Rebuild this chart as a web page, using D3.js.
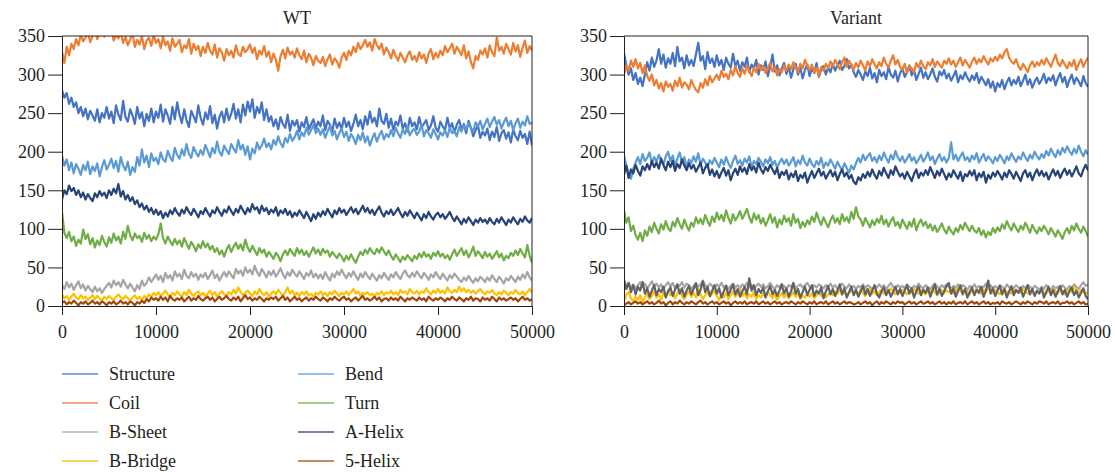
<!DOCTYPE html>
<html>
<head>
<meta charset="utf-8">
<script src="https://cdn.jsdelivr.net/npm/d3@7"></script>
<style>
    body { margin: 0; background: #fff; }
    text { font-family: "Liberation Serif", "DejaVu Serif", serif; fill: #231f20; }
</style>
</head>
<body>
<div id="chart"></div>
<script>
// each series is sampled evenly from 0 to 50000 (201 samples, every 250)
var timeMax = 50000;
var xTicks = [0, 10000, 20000, 30000, 40000, 50000];
var yTicks = [0, 50, 100, 150, 200, 250, 300, 350];

var seriesNames = ["Structure", "Coil", "B-Sheet", "B-Bridge", "Bend", "Turn", "A-Helix", "5-Helix"];
var seriesColors = ["#4472c4", "#ed7d31", "#a5a5a5", "#ffc000", "#5b9bd5", "#70ad47", "#264478", "#9e480e", "#636363"];

// ---- WT ----
var wtStructure = [280, 270, 276, 262, 270, 258, 264, 250, 258, 246,
    256, 242, 253, 247, 240, 255, 238, 250, 244, 258,
    243, 252, 237, 260, 248, 241, 266, 245, 239, 255,
    247, 236, 258, 243, 251, 233, 249, 240, 256, 238,
    252, 244, 261, 239, 255, 247, 236, 258, 242, 264,
    248, 237, 255, 241, 232, 253, 246, 238, 260, 244,
    235, 251, 242, 259, 237, 248, 230, 245, 252, 238,
    256, 241, 249, 262, 243, 255, 238, 261, 247, 265,
    252, 268, 244, 258, 250, 264, 241, 255, 239, 246,
    233, 242, 229, 245, 236, 231, 248, 227, 240, 234,
    241, 226, 238, 232, 245, 229, 236, 242, 230, 239,
    233, 247, 228, 240, 235, 226, 243, 231, 238, 229,
    244, 232, 239, 227, 236, 248, 233, 241, 229, 246,
    235, 252, 238, 244, 233, 256, 240, 236, 249, 231,
    243, 228, 239, 234, 247, 230, 237, 226, 244, 233,
    238, 229, 245, 232, 236, 241, 228, 234, 246, 231,
    226, 239, 233, 228, 244, 230, 237, 225, 235, 241,
    229, 236, 224, 240, 231, 220, 228, 234, 218, 226,
    221, 230, 215, 226, 219, 232, 214, 224, 228, 217,
    225, 212, 229, 220, 215, 227, 218, 223, 210, 226,
    208];
var wtCoil = [330, 315, 336, 325, 340, 333, 346, 338, 352, 343,
    348, 355, 342, 350, 357, 346, 353, 360, 349, 356,
    351, 358, 344, 352, 347, 355, 341, 349, 338, 346,
    353, 336, 345, 339, 350, 333, 344, 348, 337, 352,
    341, 346, 334, 349, 338, 343, 331, 347, 336, 340,
    345, 329, 338, 334, 346, 327, 340, 332, 337, 324,
    336, 328, 341, 331, 326, 339, 322, 334, 329, 318,
    333, 325, 331, 322, 338, 327, 324, 336, 329, 333,
    339, 328, 335, 320, 331, 326, 337, 323, 330, 316,
    327, 319, 305, 324, 332, 321, 335, 326, 330, 322,
    334, 325, 320, 331, 316, 327, 322, 312, 324, 318,
    315, 323, 311, 320, 326, 313, 321, 317, 309, 322,
    328, 319, 331, 325, 336, 329, 341, 333, 338, 345,
    336, 342, 331, 346, 338, 333, 340, 326, 335, 329,
    321, 332, 324, 318, 328, 322, 316, 325, 330, 319,
    324, 317, 329, 321, 326, 315, 327, 333, 320, 328,
    322, 331, 325, 337, 329, 334, 340, 327, 336, 331,
    325, 338, 321, 330, 316, 308, 324, 319, 331, 326,
    334, 322, 338, 329, 324, 348, 331, 336, 327, 340,
    333, 326, 341, 330, 338, 323, 335, 344, 328, 337,
    331];
var wtBSheet = [28, 22, 31, 24, 29, 21, 27, 32, 23, 28,
    20, 26, 22, 18, 25, 19, 23, 17, 22, 26,
    30, 24, 33, 27, 31, 25, 34, 28, 23, 29,
    24, 19, 27, 22, 33, 26, 30, 37, 31, 36,
    41, 34, 39, 31, 43, 36, 40, 33, 45, 38,
    42, 35, 47, 39, 36, 44, 38, 42, 34, 41,
    37, 43, 35, 40, 46, 36, 41, 33, 39, 44,
    38, 45, 40, 36, 48, 42, 46, 39, 50, 43,
    47, 41, 52, 44, 39, 48, 43, 37, 45, 40,
    46, 38, 43, 49, 41, 36, 44, 39, 47, 42,
    38, 45, 40, 35, 43, 39, 46, 37, 42, 36,
    41, 35, 44, 38, 33, 42, 37, 45, 40, 47,
    41, 36, 43, 38, 45, 39, 34, 42, 37, 44,
    39, 35, 42, 37, 33, 40, 36, 43, 38, 34,
    41, 37, 44, 39, 35, 42, 46, 40, 37, 43,
    38, 45, 40, 36, 43, 39, 34, 41, 37, 44,
    39, 35, 42, 37, 33, 40, 36, 42, 38, 34,
    31, 37, 33, 39, 34, 30, 36, 32, 38, 35,
    31, 37, 33, 40, 35, 31, 38, 34, 29, 36,
    33, 39, 35, 31, 38, 34, 41, 36, 44, 37,
    33];
var wtBBridge = [15, 10, 13, 8, 12, 16, 11, 9, 14, 10,
    12, 8, 11, 14, 9, 13, 10, 7, 12, 9,
    13, 10, 8, 12, 15, 11, 9, 13, 10, 7,
    11, 14, 9, 12, 8, 13, 10, 15, 12, 17,
    14, 18, 13, 16, 20, 15, 12, 17, 14, 19,
    15, 12, 18, 14, 21, 16, 13, 17, 19, 14,
    17, 13, 16, 20, 14, 18, 12, 16, 19, 15,
    13, 18, 15, 21, 16, 24, 18, 14, 17, 20,
    16, 13, 19, 15, 22, 17, 14, 18, 12, 16,
    19, 15, 21, 17, 13, 18, 24, 16, 20, 14,
    17, 13, 18, 15, 19, 14, 16, 12, 17, 15,
    19, 14, 17, 13, 18, 15, 20, 16, 13, 17,
    15, 19, 14, 18, 22, 16, 19, 13, 17, 15,
    18, 14, 16, 12, 17, 15, 19, 14, 18, 16,
    20, 15, 18, 14, 21, 17, 19, 15, 22, 18,
    16, 20, 15, 19, 17, 23, 18, 15, 20, 17,
    22, 17, 20, 16, 24, 19, 17, 21, 18, 25,
    19, 23, 18, 21, 17, 20, 16, 19, 22, 18,
    15, 19, 17, 21, 16, 14, 18, 15, 20, 17,
    14, 18, 16, 21, 17, 15, 19, 14, 18, 22,
    17];
var wtBend = [195, 182, 190, 176, 186, 172, 184, 178, 170, 183,
    176, 187, 171, 181, 175, 185, 168, 180, 189, 177,
    183, 191, 179, 188, 174, 193, 182, 176, 187, 170,
    180, 174, 193, 182, 203, 186, 195, 180, 198, 188,
    192, 184, 199, 190, 187, 201, 193, 188, 205, 196,
    191, 203, 195, 210, 197, 192, 206, 199, 194, 202,
    196, 209, 201, 193, 205, 198, 213, 200, 195, 208,
    202, 197, 210, 204, 199, 215, 203, 209, 196, 207,
    190, 204, 198, 212, 203, 208, 217, 206, 211, 203,
    215, 209, 220, 211, 206, 218, 212, 223, 214, 219,
    227, 216, 225, 220, 231, 222, 228, 235, 224, 230,
    222, 229, 218, 226, 233, 221, 227, 216, 224, 230,
    219, 226, 214, 223, 218, 210, 222, 215, 225, 212,
    220, 208, 217, 224, 213, 221, 227, 216, 223, 219,
    228, 220, 231, 224, 218, 229, 223, 233, 221, 227,
    230, 222, 226, 235, 220, 228, 224, 218, 229, 223,
    216, 225, 221, 228, 219, 231, 224, 227, 220, 232,
    226, 234, 229, 237, 231, 226, 238, 233, 240, 229,
    236, 243, 232, 239, 245, 235, 241, 230, 238, 244,
    233, 240, 228, 237, 243, 231, 239, 234, 246, 236,
    238];
var wtTurn = [122, 95, 88, 96, 84, 90, 78, 86, 81, 99,
    87, 93, 80, 88, 76, 85, 79, 91, 83, 77,
    89, 82, 94, 85, 90, 81, 96, 87, 104, 92,
    85, 94, 88, 91, 83, 95, 87, 92, 84, 90,
    86, 93, 107, 88, 81, 90, 84, 79, 87, 80,
    85, 77, 88, 81, 74, 83, 78, 71, 80, 75,
    84, 76, 81, 73, 78, 70, 75, 67, 72, 64,
    73, 79, 70, 77, 82, 74, 80, 72, 86, 76,
    70, 78, 72, 66, 75, 69, 73, 64, 70, 66,
    61, 69, 65, 58, 67, 72, 66, 74, 69, 65,
    75, 68, 73, 66, 71, 64, 70, 76, 68, 73,
    66, 74, 69, 72, 64, 70, 66, 62, 68, 64,
    58, 65, 60, 67, 61, 56, 64, 70, 66, 73,
    68, 75, 70, 67, 74, 69, 76, 71, 66, 72,
    65, 60, 67, 62, 57, 64, 60, 66, 62, 58,
    65, 61, 68, 63, 70, 64, 67, 61, 69, 65,
    71, 64, 68, 62, 66, 60, 67, 73, 65, 70,
    75, 66, 72, 63, 69, 77, 65, 71, 67, 62,
    70, 64, 68, 61, 66, 71, 63, 68, 59, 65,
    62, 69, 65, 72, 66, 74, 68, 63, 79, 65,
    56];
var wtAHelix = [138, 150, 145, 156, 149, 153, 144, 150, 141, 147,
    138, 145, 140, 136, 146, 141, 149, 143, 147, 140,
    150, 144, 152, 146, 158, 142, 149, 138, 144, 136,
    141, 132, 137, 128, 133, 125, 130, 122, 127, 119,
    125, 118, 123, 114, 121, 116, 124, 119, 127, 121,
    117, 125, 120, 128, 122, 118, 126, 121, 115, 123,
    119, 127, 121, 116, 124, 120, 128, 122, 117, 125,
    121, 129, 123, 118, 126, 121, 130, 124, 119, 127,
    122, 132, 125, 128, 120, 130, 123, 127, 119, 125,
    121, 128, 117, 124, 120, 126, 118, 123, 115, 121,
    117, 124, 119, 114, 122, 116, 110, 119, 113, 121,
    116, 123, 118, 126, 120, 115, 124, 119, 127, 121,
    125, 118, 123, 128, 121, 126, 119, 124, 130, 122,
    127, 120, 125, 118, 124, 129, 121, 116, 123, 119,
    125, 118, 122, 127, 120, 115, 122, 117, 124, 119,
    114, 121, 116, 111, 119, 114, 122, 116, 112, 118,
    121, 115, 119, 113, 117, 122, 115, 110, 116, 111,
    106, 113, 108, 115, 110, 105, 112, 108, 114, 109,
    112, 107, 114, 109, 106, 113, 108, 115, 110, 105,
    112, 108, 115, 110, 106, 113, 109, 116, 111, 108,
    114];
var wt5Helix = [4, 6, 2, 5, 3, 7, 4, 1, 5, 3,
    6, 2, 4, 7, 3, 5, 2, 6, 4, 1,
    5, 3, 6, 2, 4, 7, 3, 5, 2, 6,
    4, 1, 5, 3, 7, 4, 9, 6, 11, 8,
    10, 7, 12, 8, 11, 6, 13, 9, 7, 10,
    8, 11, 6, 9, 12, 7, 10, 8, 13, 9,
    7, 10, 12, 8, 11, 6, 9, 12, 8, 10,
    13, 9, 7, 11, 8, 12, 6, 10, 14, 9,
    11, 7, 10, 8, 12, 9, 6, 10, 8, 11,
    9, 12, 7, 10, 13, 8, 11, 6, 9, 12,
    8, 10, 6, 9, 11, 7, 10, 8, 12, 9,
    7, 11, 9, 6, 10, 8, 12, 9, 7, 10,
    12, 8, 10, 6, 9, 11, 7, 10, 13, 8,
    10, 7, 9, 12, 8, 11, 6, 9, 10, 7,
    11, 8, 10, 7, 12, 9, 6, 10, 8, 11,
    9, 7, 11, 8, 10, 6, 12, 9, 7, 10,
    8, 11, 9, 6, 10, 8, 12, 9, 7, 11,
    9, 6, 10, 8, 12, 7, 10, 9, 6, 11,
    8, 10, 7, 12, 9, 6, 11, 8, 10, 7,
    9, 11, 8, 10, 6, 9, 12, 8, 10, 7,
    9];

// ---- Variant ----
var vStructure = [328, 312, 300, 308, 293, 302, 288, 296, 285, 300,
    316, 305, 322, 310, 318, 333, 314, 326, 309, 321,
    314, 328, 311, 336, 317, 322, 308, 325, 312, 319,
    311, 326, 341, 318, 324, 307, 329, 315, 321, 310,
    325, 312, 319, 306, 322, 314, 309, 327, 311, 318,
    305, 316, 310, 322, 303, 313, 308, 319, 300, 312,
    306, 317, 298, 310, 326, 304, 312, 299, 308, 315,
    301, 310, 296, 307, 314, 300, 309, 295, 306, 313,
    298, 308, 302, 315, 297, 306, 311, 300, 309, 303,
    314, 305, 312, 318, 306, 311, 320, 308, 313, 303,
    297, 306, 300, 293, 304, 298, 309, 295, 302, 290,
    306, 298, 303, 294, 310, 300, 296, 305, 291, 302,
    308, 297, 303, 312, 299, 306, 293, 301, 309, 296,
    303, 294, 300, 308, 297, 291, 304, 299, 306, 295,
    301, 292, 298, 305, 290, 299, 294, 303, 296, 291,
    299, 293, 302, 289, 297, 292, 286, 294, 283, 291,
    278, 289, 284, 293, 281, 290, 296, 286, 293, 288,
    297, 285, 292, 300, 287, 294, 283, 291, 296, 288,
    293, 301, 289, 296, 292, 299, 286, 295, 302, 290,
    297, 284, 293, 300, 288, 296, 291, 285, 298, 289,
    284];
var vCoil = [300, 312, 305, 318, 310, 320, 308, 315, 302, 312,
    298, 292, 300, 286, 293, 282, 289, 278, 291, 284,
    288, 279, 292, 285, 296, 283, 290, 287, 281, 293,
    286, 280, 277, 289, 283, 294, 286, 298, 290, 295,
    300, 293, 305, 297, 301, 294, 306, 299, 311, 302,
    297, 308, 301, 312, 304, 298, 309, 303, 314, 306,
    311, 302, 308, 315, 304, 310, 299, 307, 303, 312,
    305, 313, 307, 316, 309, 303, 314, 308, 319, 311,
    306, 313, 302, 309, 298, 310, 305, 314, 308, 317,
    311, 319, 313, 307, 316, 322, 310, 318, 312, 306,
    315, 309, 318, 312, 305, 317, 311, 320, 313, 308,
    316, 311, 322, 314, 309, 318, 325, 313, 319, 310,
    306, 314, 302, 311, 308, 303, 315, 309, 318, 311,
    307, 316, 312, 320, 310, 317, 313, 309, 318, 314,
    321, 313, 318, 310, 316, 322, 312, 319, 314, 309,
    317, 322, 314, 320, 316, 324, 318, 313, 321, 317,
    323, 318, 326, 321, 329, 333, 322, 317, 314, 320,
    311, 306, 314, 309, 303, 312, 317, 310, 316, 312,
    319, 313, 321, 316, 310, 318, 326, 315, 311, 319,
    313, 308, 316, 311, 319, 306, 314, 320, 310, 317,
    322];
var vBSheet = [32, 26, 30, 24, 28, 22, 27, 31, 25, 29,
    23, 27, 32, 26, 29, 24, 28, 22, 27, 31,
    25, 30, 23, 28, 26, 31, 24, 29, 27, 22,
    26, 30, 25, 28, 33, 27, 24, 29, 26, 23,
    28, 25, 30, 24, 27, 22, 26, 29, 24, 27,
    23, 28, 25, 30, 24, 27, 22, 26, 29, 25,
    28, 23, 26, 30, 25, 22, 27, 24, 28, 26,
    22, 27, 25, 29, 23, 26, 28, 24, 27, 30,
    25, 22, 27, 24, 28, 26, 23, 27, 25, 29,
    24, 27, 22, 26, 29, 25, 23, 28, 24, 26,
    22, 26, 24, 28, 23, 27, 25, 21, 26, 24,
    28, 24, 27, 22, 26, 30, 25, 23, 27, 24,
    26, 23, 28, 25, 22, 26, 24, 29, 25, 23,
    27, 24, 22, 26, 29, 25, 23, 27, 24, 28,
    25, 22, 26, 24, 28, 23, 27, 25, 21, 26,
    24, 28, 23, 26, 22, 25, 29, 24, 27, 23,
    26, 23, 27, 25, 22, 28, 24, 26, 23, 27,
    24, 21, 26, 23, 27, 25, 22, 26, 24, 21,
    25, 22, 27, 24, 21, 26, 23, 25, 22, 27,
    24, 21, 26, 23, 28, 25, 22, 27, 31, 26,
    28];
var vBBridge = [5, 15, 18, 10, 6, 12, 8, 14, 5, 11,
    16, 9, 13, 19, 11, 15, 8, 17, 12, 20,
    14, 18, 10, 16, 21, 13, 9, 15, 19, 12,
    17, 11, 22, 15, 9, 14, 18, 12, 16, 20,
    13, 8, 15, 11, 17, 9, 14, 19, 12, 16,
    21, 13, 17, 10, 15, 12, 18, 9, 14, 11,
    16, 12, 19, 14, 10, 15, 8, 13, 17, 11,
    15, 10, 14, 18, 12, 16, 9, 13, 11, 15,
    12, 17, 10, 14, 19, 13, 16, 11, 15, 18,
    14, 19, 16, 21, 15, 18, 13, 17, 20, 16,
    19, 15, 21, 17, 13, 18, 22, 16, 19, 14,
    18, 21, 16, 20, 17, 23, 19, 15, 20, 17,
    21, 18, 15, 20, 17, 22, 19, 16, 21, 18,
    15, 20, 17, 22, 18, 14, 19, 21, 17, 20,
    18, 22, 16, 20, 24, 19, 17, 21, 18, 15,
    20, 17, 22, 19, 16, 21, 18, 23, 20, 17,
    21, 18, 15, 20, 22, 17, 19, 16, 21, 18,
    20, 17, 22, 19, 16, 20, 18, 15, 19, 17,
    21, 18, 16, 20, 17, 22, 19, 16, 21, 18,
    15, 19, 22, 18, 25, 20, 17, 21, 19, 16,
    18];
var vBend = [195, 182, 172, 165, 178, 186, 193, 184, 197, 188,
    192, 199, 185, 193, 187, 196, 189, 183, 194, 200,
    188, 195, 182, 191, 199, 186, 193, 180, 190, 185,
    194, 187, 198, 183, 191, 186, 180, 189, 184, 192,
    186, 180, 190, 183, 193, 185, 179, 188, 195, 184,
    189, 182, 191, 186, 194, 180, 188, 184, 192, 187,
    181, 190, 185, 193, 183, 188, 179, 186, 191, 184,
    190, 182, 187, 193, 181, 189, 184, 195, 186, 182,
    191, 184, 180, 188, 183, 192, 179, 186, 182, 190,
    184, 178, 187, 181, 176, 185, 179, 173, 182, 177,
    185, 192, 186, 196, 189, 194, 198, 188, 193, 186,
    195, 189, 199, 192, 186, 196, 190, 201, 193, 188,
    194, 186, 191, 197, 188, 193, 185, 190, 196, 187,
    192, 199, 189, 194, 184, 191, 197, 188, 193, 186,
    192, 212, 190, 196, 188, 194, 199, 189, 193, 187,
    195, 190, 198, 186, 192, 197, 188, 194, 190, 185,
    193, 188, 196, 191, 185, 194, 189, 198, 192, 187,
    194, 190, 199, 193, 188, 196, 191, 200, 194, 190,
    197, 192, 201, 195, 204, 198, 193, 202, 196, 205,
    199, 207, 201, 196, 204, 198, 208, 200, 194, 202,
    196];
var vTurn = [124, 108, 115, 97, 104, 92, 86, 95, 84, 98,
    91, 103, 96, 108, 100, 94, 106, 99, 110, 101,
    97, 109, 103, 114, 106, 100, 112, 104, 98, 108,
    103, 115, 107, 113, 106, 118, 110, 104, 116, 109,
    121, 112, 118, 110, 124, 114, 107, 119, 111, 116,
    123, 113, 119, 126, 115, 108, 120, 112, 118, 107,
    114, 104, 111, 119, 108, 115, 102, 112, 106, 117,
    109, 114, 104, 119, 108, 113, 101, 109, 103, 111,
    106, 116, 109, 121, 112, 105, 115, 108, 102, 111,
    117, 108, 114, 106, 119, 110, 115, 108, 122, 113,
    128, 116, 112, 104, 114, 108, 102, 111, 105, 113,
    108, 117, 106, 112, 103, 110, 115, 104, 109, 101,
    112, 106, 100, 109, 103, 113, 98, 107, 112, 104,
    109, 101, 106, 98, 104, 96, 101, 107, 99, 94,
    103, 97, 93, 101, 96, 105, 99, 108, 102, 97,
    104, 98, 95, 101, 92, 98, 89, 96, 92, 101,
    95, 102, 97, 106, 100, 110, 103, 98, 107, 101,
    96, 104, 99, 108, 102, 95, 105, 99, 94, 102,
    97, 104, 99, 93, 101, 96, 90, 98, 93, 87,
    96, 101, 94, 104, 98, 107, 100, 95, 103, 97,
    90];
var vAHelix = [170, 182, 166, 177, 172, 183, 175, 169, 181, 176,
    184, 177, 188, 180, 186, 178, 191, 183, 176, 187,
    180, 188, 175, 184, 179, 190, 182, 176, 185, 178,
    183, 174, 180, 186, 172, 179, 184, 170, 177, 168,
    175, 166, 173, 179, 169, 176, 163, 172, 178, 170,
    181, 174, 179, 171, 184, 176, 181, 173, 186, 177,
    172, 180, 175, 183, 177, 171, 179, 166, 174, 170,
    176, 164, 172, 167, 175, 162, 170, 166, 173, 160,
    168, 175, 166, 172, 178, 169, 174, 165, 171, 176,
    168, 174, 163, 171, 177, 168, 173, 165, 170, 161,
    158, 167, 163, 171, 166, 174, 168, 177, 170, 165,
    175, 169, 179, 172, 166, 176, 170, 181, 174, 168,
    172, 165, 174, 168, 162, 171, 177, 166, 173, 169,
    176, 170, 180, 173, 166, 175, 169, 178, 171, 164,
    172, 167, 176, 170, 165, 174, 162, 171, 168, 175,
    169, 176, 163, 172, 167, 174, 160, 170, 165, 173,
    168, 175, 170, 164, 173, 167, 176, 171, 165, 174,
    168, 162, 172, 176, 167, 173, 163, 171, 177, 169,
    175, 168, 173, 164, 171, 177, 169, 175, 166, 173,
    178, 170, 176, 168, 174, 181, 172, 168, 177, 183,
    176];
var v5Helix = [1, 3, 5, 2, 4, 6, 3, 5, 2, 4,
    6, 3, 5, 2, 4, 7, 3, 5, 1, 4,
    6, 2, 5, 3, 7, 4, 2, 5, 3, 6,
    4, 2, 5, 7, 3, 5, 2, 4, 6, 3,
    5, 2, 4, 6, 3, 5, 1, 4, 6, 3,
    5, 3, 6, 2, 4, 5, 3, 6, 2, 4,
    6, 3, 5, 2, 4, 6, 3, 5, 2, 4,
    5, 3, 6, 4, 2, 5, 3, 6, 4, 2,
    5, 3, 6, 2, 4, 5, 3, 6, 2, 4,
    6, 3, 5, 2, 4, 6, 3, 5, 4, 2,
    3, 5, 2, 4, 6, 3, 5, 1, 4, 6,
    2, 5, 3, 6, 4, 2, 5, 3, 6, 4,
    5, 2, 4, 6, 3, 5, 2, 4, 6, 3,
    4, 6, 3, 5, 2, 4, 6, 3, 5, 2,
    5, 3, 6, 2, 4, 5, 3, 6, 2, 4,
    6, 3, 5, 2, 4, 6, 3, 5, 2, 4,
    3, 5, 2, 6, 4, 3, 5, 2, 4, 6,
    4, 2, 5, 3, 6, 4, 2, 5, 3, 6,
    5, 3, 6, 2, 4, 5, 3, 6, 2, 4,
    4, 6, 3, 5, 2, 4, 6, 3, 5, 2,
    3];
// extra dark-grey series that only appears in the Variant panel (no legend entry)
var vOther = [34, 22, 30, 18, 27, 15, 25, 20, 31, 16,
    23, 12, 20, 27, 14, 22, 18, 25, 11, 19,
    24, 13, 21, 28, 16, 23, 12, 20, 26, 15,
    22, 29, 14, 21, 32, 18, 25, 13, 20, 27,
    16, 23, 11, 19, 26, 14, 21, 28, 15, 22,
    12, 19, 25, 15, 36, 20, 27, 14, 22, 17,
    24, 11, 19, 26, 15, 21, 13, 20, 28, 16,
    23, 12, 19, 30, 16, 22, 11, 18, 25, 14,
    21, 27, 13, 20, 16, 24, 10, 19, 26, 15,
    22, 13, 20, 28, 15, 23, 11, 18, 25, 14,
    21, 12, 19, 26, 15, 22, 13, 20, 27, 16,
    11, 19, 24, 14, 21, 12, 18, 25, 15, 22,
    13, 20, 27, 16, 23, 11, 19, 25, 14, 21,
    17, 24, 12, 20, 28, 15, 22, 13, 19, 26,
    30, 16, 23, 12, 20, 27, 15, 22, 11, 18,
    24, 14, 21, 17, 25, 12, 20, 33, 16, 23,
    13, 20, 26, 15, 22, 11, 19, 25, 14, 21,
    17, 24, 12, 19, 27, 15, 22, 13, 20, 16,
    23, 11, 18, 25, 14, 21, 12, 19, 26, 15,
    21, 12, 19, 24, 14, 20, 11, 17, 23, 13,
    9];

var wtSeries = [wtStructure, wtCoil, wtBSheet, wtBBridge, wtBend, wtTurn, wtAHelix, wt5Helix];
var variantSeries = [vStructure, vCoil, vBSheet, vBBridge, vBend, vTurn, vAHelix, v5Helix, vOther];

var svg = d3.select("#chart").append("svg")
    .attr("width", 1115)
    .attr("height", 472);

function drawPanel(title, seriesList, left, right, clipId) {
    var top = 36;
    var bottom = 306;

    var x = d3.scaleLinear()
        .domain([0, timeMax])
        .range([left, right]);

    var y = d3.scaleLinear()
        .domain([0, 350])
        .range([bottom, top]);

    var g = svg.append("g");

    g.append("clipPath")
        .attr("id", clipId)
        .append("rect")
        .attr("x", left)
        .attr("y", top)
        .attr("width", right - left)
        .attr("height", bottom - top);

    var line = d3.line()
        .x(function (d, i, arr) { return x(i * timeMax / (arr.length - 1)); })
        .y(function (d) { return y(d); });

    g.append("g")
        .attr("clip-path", "url(#" + clipId + ")")
        .selectAll("path")
        .data(seriesList)
        .enter()
        .append("path")
        .attr("d", line)
        .attr("fill", "none")
        .attr("stroke", function (d, i) { return seriesColors[i]; })
        .attr("stroke-width", 2.2)
        .attr("stroke-linejoin", "round");

    // frame (top + right)
    g.append("path")
        .attr("d", "M" + left + "," + top + "H" + right + "V" + bottom)
        .attr("fill", "none")
        .attr("stroke", "#231f20")
        .attr("stroke-width", 1);

    var yAxis = g.append("g")
        .attr("transform", "translate(" + left + ",0)")
        .call(d3.axisLeft(y).tickValues(yTicks).tickSize(14).tickPadding(3));

    var xAxis = g.append("g")
        .attr("transform", "translate(0," + bottom + ")")
        .call(d3.axisBottom(x).tickValues(xTicks).tickSize(9).tickPadding(10).tickFormat(d3.format("d")));

    [yAxis, xAxis].forEach(function (ax) {
        ax.selectAll("path, line").attr("stroke", "#231f20");
        ax.selectAll("text")
            .attr("fill", "#231f20")
            .style("font-size", "18px")
            .style("font-family", "'Liberation Serif', serif");
    });

    g.append("text")
        .attr("x", (left + right) / 2)
        .attr("y", 24)
        .attr("text-anchor", "middle")
        .style("font-size", "18px")
        .text(title);
}

drawPanel("WT", wtSeries, 62, 532, "clip-wt");
drawPanel("Variant", variantSeries, 624, 1088, "clip-variant");

// legend, two columns of four
var legend = svg.selectAll(".legend")
    .data(seriesNames)
    .enter()
    .append("g")
    .attr("class", "legend")
    .attr("transform", function (d, i) {
        var col = Math.floor(i / 4);
        var row = i % 4;
        return "translate(" + (62 + col * 236) + "," + (374 + row * 29) + ")";
    });

legend.append("line")
    .attr("x1", 0)
    .attr("x2", 36)
    .attr("stroke", function (d, i) { return seriesColors[i]; })
    .attr("stroke-width", 1.5)
    .attr("opacity", 0.85);

legend.append("text")
    .attr("x", 47)
    .attr("y", 6)
    .style("font-size", "18px")
    .text(function (d) { return d; });
</script>
</body>
</html>
